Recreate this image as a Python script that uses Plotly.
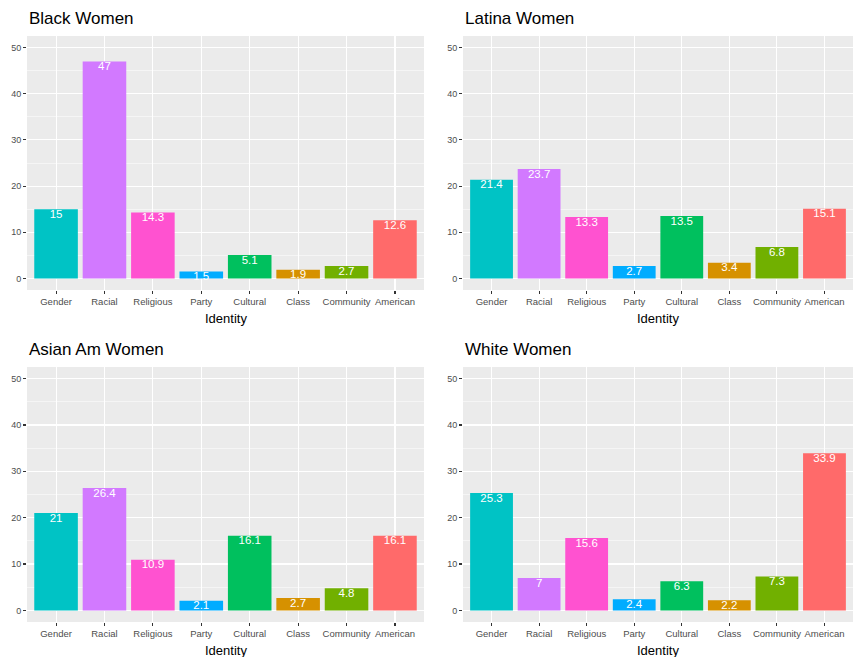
import plotly.graph_objects as go
from plotly.subplots import make_subplots

categories = ["Gender", "Racial", "Religious", "Party", "Cultural", "Class", "Community", "American"]
black_women = [15, 47, 14.3, 1.5, 5.1, 1.9, 2.7, 12.6]
latina_women = [21.4, 23.7, 13.3, 2.7, 13.5, 3.4, 6.8, 15.1]
asian_am_women = [21, 26.4, 10.9, 2.1, 16.1, 2.7, 4.8, 16.1]
white_women = [25.3, 7, 15.6, 2.4, 6.3, 2.2, 7.3, 33.9]
panel_titles = ["Black Women", "Latina Women", "Asian Am Women", "White Women"]
y_ticks = [0, 10, 20, 30, 40, 50]

colors = {
    "American": "#FF6A6A", "Class": "#D69100", "Community": "#71B000", "Cultural": "#00C05E",
    "Gender": "#00C3C5", "Party": "#00ACFF", "Racial": "#D279FF", "Religious": "#FF52D0",
}

W, H = 856, 657
fig = make_subplots(rows=2, cols=2)

series = [black_women, latina_women, asian_am_women, white_women]
positions = [(1, 1), (1, 2), (2, 1), (2, 2)]

for vals, (r, c) in zip(series, positions):
    fig.add_trace(go.Bar(
        x=categories, y=vals, width=0.9,
        marker=dict(color=[colors[k] for k in categories], line=dict(width=0)),
        showlegend=False, hoverinfo="skip"), row=r, col=c)
    fig.add_trace(go.Scatter(
        x=categories, y=vals, mode="text",
        text=[f"{v:g}" for v in vals], textposition="bottom center",
        textfont=dict(color="white", size=11.5, family="Liberation Sans, Arial"),
        showlegend=False, hoverinfo="skip"), row=r, col=c)

# domains in pixels
xdom = [(27, 424), (463, 853)]
ydom = [(36, 290), (367, 622)]

def px_x(a, b):
    return [a / W, b / W]

def px_y(top, bottom):
    return [1 - bottom / H, 1 - top / H]

axis_font = dict(family="Liberation Sans, Arial", size=9, color="#4D4D4D")
for i, (r, c) in enumerate(positions):
    idx = i + 1
    xa = "xaxis" if idx == 1 else f"xaxis{idx}"
    ya = "yaxis" if idx == 1 else f"yaxis{idx}"
    fig.update_layout(**{
        xa: dict(domain=px_x(*xdom[c - 1]), range=[-0.6, 7.6], type="category",
                 showgrid=True, gridcolor="white", gridwidth=1.1,
                 ticks="outside", ticklen=3, tickcolor="#333333", tickwidth=1.1,
                 tickfont=dict(family="Liberation Sans, Arial", size=9.5, color="#4D4D4D"),
                 showline=False, zeroline=False, fixedrange=True),
        ya: dict(domain=px_y(*ydom[r - 1]), range=[-2.5, 52.5],
                 tickvals=y_ticks, showgrid=True, gridcolor="white", gridwidth=1.1,
                 minor=dict(dtick=5, tick0=0, showgrid=True, gridcolor="white", gridwidth=0.5),
                 ticks="outside", ticklen=3, tickcolor="#333333", tickwidth=1.1,
                 tickfont=axis_font, showline=False, zeroline=False, fixedrange=True),
    })

annotations = []
for i, (r, c) in enumerate(positions):
    x0, x1 = xdom[c - 1]
    top, bottom = ydom[r - 1]
    annotations.append(dict(
        text=panel_titles[i], xref="paper", yref="paper",
        x=x0 / W, y=1 - (top - 18) / H, xanchor="left", yanchor="middle",
        showarrow=False, font=dict(family="Liberation Sans, Arial", size=17, color="black")))
    annotations.append(dict(
        text="Identity", xref="paper", yref="paper",
        x=(x0 + x1) / 2 / W, y=1 - (bottom + 28) / H, xanchor="center", yanchor="middle",
        showarrow=False, font=dict(family="Liberation Sans, Arial", size=13, color="black")))

fig.update_layout(
    width=W, height=H, margin=dict(l=0, r=0, t=0, b=0),
    paper_bgcolor="white", plot_bgcolor="#EBEBEB",
    barmode="overlay", annotations=annotations, showlegend=False,
)

fig.write_html("out.html", config={"displayModeBar": False, "staticPlot": True},
               post_script="document.body.style.margin='0';document.body.style.overflow='hidden';")
